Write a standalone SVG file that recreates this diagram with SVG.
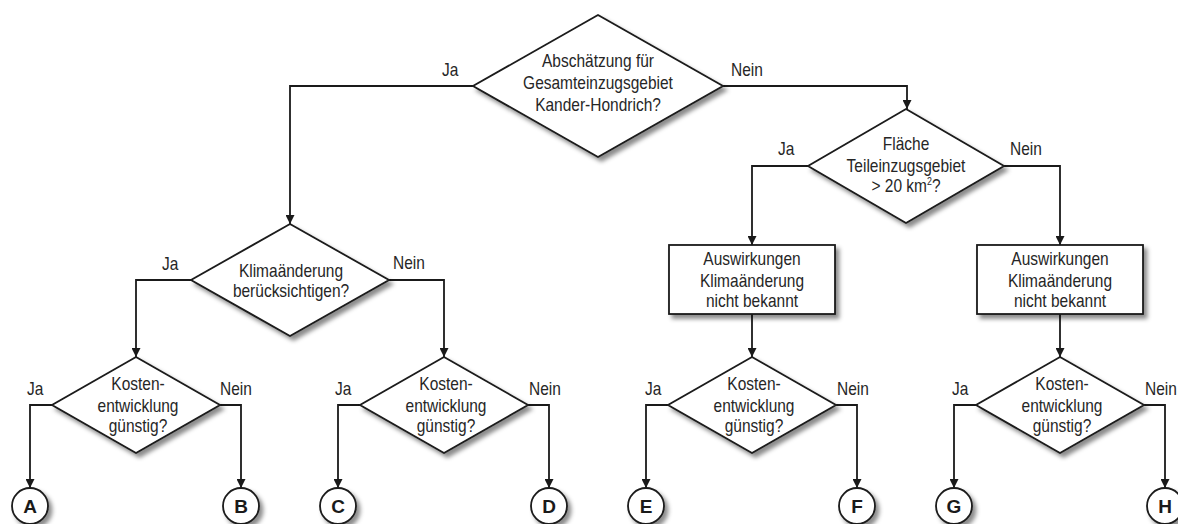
<svg xmlns="http://www.w3.org/2000/svg" width="1178" height="524" viewBox="0 0 1178 524">
  <defs>
    <filter id="shadow" x="-20%" y="-20%" width="150%" height="160%">
      <feDropShadow dx="3.5" dy="4" stdDeviation="2.2" flood-color="#000" flood-opacity="0.45"/>
    </filter>
    <marker id="arrow" viewBox="0 0 10 10" refX="10" refY="5" markerWidth="9" markerHeight="9" markerUnits="userSpaceOnUse" orient="auto">
      <path d="M0,0 L10,5 L0,10 z" fill="#1a1a1a"/>
    </marker>
    <style>
      .shape { fill: #fff; stroke: #1a1a1a; stroke-width: 1.8; filter: url(#shadow); }
      .conn { fill: none; stroke: #1a1a1a; stroke-width: 1.8; marker-end: url(#arrow); }
      .lbl { font-family: "Liberation Sans", Arial, sans-serif; font-size: 17.5px; fill: #262626; }
      .node { font-family: "Liberation Sans", Arial, sans-serif; font-size: 17.5px; fill: #262626; text-anchor: middle; }
      .term { font-family: "Liberation Sans", Arial, sans-serif; font-size: 19px; font-weight: bold; fill: #1a1a1a; text-anchor: middle; }
    </style>
  </defs>
  <rect width="1178" height="524" fill="#fff"/>

  <!-- connectors -->
  <g id="connectors">
    <path class="conn" d="M473,86 H290 V224"/>
    <path class="conn" d="M723,86 H907 V109"/>
    <path class="conn" d="M191,280 H136 V357"/>
    <path class="conn" d="M389,280 H444 V357"/>
    <path class="conn" d="M808,166 H752 V245"/>
    <path class="conn" d="M1004,166 H1060 V245"/>
    <path class="conn" d="M752,314 V357"/>
    <path class="conn" d="M1060,314 V357"/>
    <path class="conn" d="M52,405 H30 V488"/>
    <path class="conn" d="M220,405 H241 V488"/>
    <path class="conn" d="M360,405 H338 V488"/>
    <path class="conn" d="M528,405 H549 V488"/>
    <path class="conn" d="M668,405 H646 V488"/>
    <path class="conn" d="M836,405 H857 V488"/>
    <path class="conn" d="M976,405 H954 V488"/>
    <path class="conn" d="M1144,405 H1165 V488"/>
  </g>

  <!-- branch labels (narrowed sans) -->
  <g id="labels">
    <text class="lbl" transform="translate(442 76) scale(.886 1)">Ja</text>
    <text class="lbl" transform="translate(731 76) scale(.886 1)">Nein</text>
    <text class="lbl" transform="translate(162 270) scale(.886 1)">Ja</text>
    <text class="lbl" transform="translate(393 269) scale(.886 1)">Nein</text>
    <text class="lbl" transform="translate(778 155) scale(.886 1)">Ja</text>
    <text class="lbl" transform="translate(1010 155) scale(.886 1)">Nein</text>
    <text class="lbl" transform="translate(27 395) scale(.886 1)">Ja</text>
    <text class="lbl" transform="translate(220 395) scale(.886 1)">Nein</text>
    <text class="lbl" transform="translate(335 395) scale(.886 1)">Ja</text>
    <text class="lbl" transform="translate(529 395) scale(.886 1)">Nein</text>
    <text class="lbl" transform="translate(645 395) scale(.886 1)">Ja</text>
    <text class="lbl" transform="translate(837 395) scale(.886 1)">Nein</text>
    <text class="lbl" transform="translate(952 395) scale(.886 1)">Ja</text>
    <text class="lbl" transform="translate(1145 395) scale(.886 1)">Nein</text>
  </g>

  <!-- decision: whole catchment -->
  <g id="d-gesamt">
    <polygon class="shape" points="598,15 723,86 598,157 473,86"/>
    <g transform="translate(598 0) scale(.886 1)">
      <text class="node" y="67">Abschätzung für</text>
      <text class="node" y="89">Gesamteinzugsgebiet</text>
      <text class="node" y="111">Kander-Hondrich?</text>
    </g>
  </g>

  <!-- decision: sub-catchment area -->
  <g id="d-flaeche">
    <polygon class="shape" points="906,109 1004,166 906,223 808,166"/>
    <g transform="translate(906 0) scale(.886 1)">
      <text class="node" y="150">Fläche</text>
      <text class="node" y="172">Teileinzugsgebiet</text>
      <text class="node" y="192">&gt; 20 km<tspan font-size="10px" dy="-7">2</tspan><tspan dy="7">?</tspan></text>
    </g>
  </g>

  <!-- decision: climate change -->
  <g id="d-klima">
    <polygon class="shape" points="290,224 389,280 290,336 191,280"/>
    <g transform="translate(291 0) scale(.886 1)">
      <text class="node" y="277">Klimaänderung</text>
      <text class="node" y="297">berücksichtigen?</text>
    </g>
  </g>

  <!-- process boxes -->
  <g id="p-auswirkung-1">
    <rect class="shape" x="669" y="245" width="166" height="69"/>
    <g transform="translate(752 0) scale(.886 1)">
      <text class="node" y="265">Auswirkungen</text>
      <text class="node" y="287">Klimaänderung</text>
      <text class="node" y="307">nicht bekannt</text>
    </g>
  </g>
  <g id="p-auswirkung-2">
    <rect class="shape" x="977" y="245" width="166" height="69"/>
    <g transform="translate(1060 0) scale(.886 1)">
      <text class="node" y="265">Auswirkungen</text>
      <text class="node" y="287">Klimaänderung</text>
      <text class="node" y="307">nicht bekannt</text>
    </g>
  </g>

  <!-- decisions: cost development -->
  <g id="d-kosten-1">
    <polygon class="shape" points="136,357 220,405 136,453 52,405"/>
    <g transform="translate(138 0) scale(.886 1)">
      <text class="node" y="390">Kosten-</text>
      <text class="node" y="412">entwicklung</text>
      <text class="node" y="432">günstig?</text>
    </g>
  </g>
  <g id="d-kosten-2">
    <polygon class="shape" points="444,357 528,405 444,453 360,405"/>
    <g transform="translate(446 0) scale(.886 1)">
      <text class="node" y="390">Kosten-</text>
      <text class="node" y="412">entwicklung</text>
      <text class="node" y="432">günstig?</text>
    </g>
  </g>
  <g id="d-kosten-3">
    <polygon class="shape" points="752,357 836,405 752,453 668,405"/>
    <g transform="translate(754 0) scale(.886 1)">
      <text class="node" y="390">Kosten-</text>
      <text class="node" y="412">entwicklung</text>
      <text class="node" y="432">günstig?</text>
    </g>
  </g>
  <g id="d-kosten-4">
    <polygon class="shape" points="1060,357 1144,405 1060,453 976,405"/>
    <g transform="translate(1062 0) scale(.886 1)">
      <text class="node" y="390">Kosten-</text>
      <text class="node" y="412">entwicklung</text>
      <text class="node" y="432">günstig?</text>
    </g>
  </g>

  <!-- terminals -->
  <g id="t-a"><circle class="shape" cx="30" cy="506" r="18"/><text class="term" x="30" y="513">A</text></g>
  <g id="t-b"><circle class="shape" cx="241" cy="506" r="18"/><text class="term" x="241" y="513">B</text></g>
  <g id="t-c"><circle class="shape" cx="338" cy="506" r="18"/><text class="term" x="338" y="513">C</text></g>
  <g id="t-d"><circle class="shape" cx="549" cy="506" r="18"/><text class="term" x="549" y="513">D</text></g>
  <g id="t-e"><circle class="shape" cx="646" cy="506" r="18"/><text class="term" x="646" y="513">E</text></g>
  <g id="t-f"><circle class="shape" cx="857" cy="506" r="18"/><text class="term" x="857" y="513">F</text></g>
  <g id="t-g"><circle class="shape" cx="954" cy="506" r="18"/><text class="term" x="954" y="513">G</text></g>
  <g id="t-h"><circle class="shape" cx="1165" cy="506" r="18"/><text class="term" x="1165" y="513">H</text></g>
</svg>
